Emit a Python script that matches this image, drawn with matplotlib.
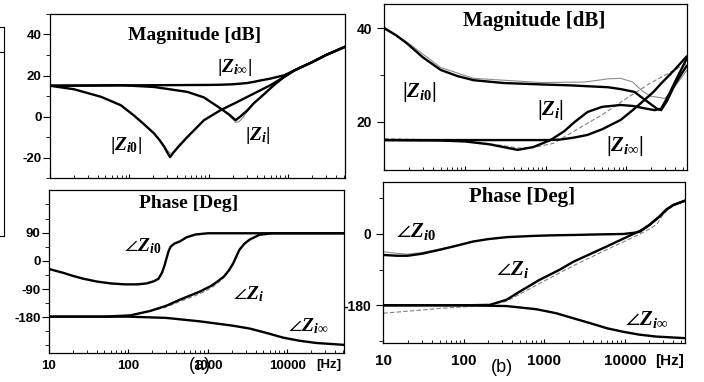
import matplotlib
matplotlib.use("Agg")
import matplotlib.pyplot as plt
from matplotlib.ticker import FixedLocator, NullFormatter
from matplotlib.lines import Line2D

plt.rcParams['mathtext.fontset'] = 'custom'
plt.rcParams['mathtext.it'] = 'Liberation Serif:italic:bold'
plt.rcParams['mathtext.rm'] = 'Liberation Serif:bold'
plt.rcParams['mathtext.bf'] = 'Liberation Serif:bold'
plt.rcParams['mathtext.fallback'] = 'stix'

# ---------------- data : panel (a) ----------------
a_mag_inf_f = [10, 30, 100, 300, 1000, 1410, 2000, 3000, 3700, 4500, 6000, 8900, 12000, 20000, 30000, 52000]
a_mag_inf_v = [15, 15.1, 15.2, 15.3, 15.4, 15.5, 15.7, 16.3, 16.9, 17.6, 18.5, 20.1, 22.5, 26.5, 30.0, 34.0]

a_mag_0_f = [10, 20, 44, 78, 114, 150, 205, 240, 275, 300, 325, 360, 420, 537, 700, 870, 1410, 2290, 3700, 6000, 8900, 12000, 20000, 30000, 52000]
a_mag_0_v = [15, 13.3, 9.6, 5.5, 0.5, -3.5, -8.3, -11.5, -14.8, -17.5, -19.8, -17.5, -14.5, -10, -5.5, -1.8, 3.1, 7.1, 11.2, 15.3, 19.3, 22.5, 26.5, 30.0, 34.0]
a_mag_0_meas_f = [240, 275, 300, 325, 345, 370, 420, 537]
a_mag_0_meas_v = [-11.5, -14.5, -16.5, -17.8, -18.2, -16.8, -14.0, -10]

a_mag_i_f = [10, 30, 78, 205, 537, 870, 1410, 1800, 2180, 2500, 3080, 3700, 4570, 6620, 8900, 12000, 20000, 30000, 52000]
a_mag_i_v = [15, 15.1, 15.3, 14.4, 12.0, 9.3, 3.9, 1.0, -1.8, 0.0, 3.1, 6.5, 9.6, 15.3, 19.3, 22.5, 26.5, 30.0, 34.0]
a_mag_i_meas_f = [1410, 1800, 2180, 2400, 2700, 3080, 3700]
a_mag_i_meas_v = [3.9, 0.5, -2.8, -2.6, -0.5, 2.6, 6.3]

a_ph_0_f = [10, 15, 20, 27, 40, 60, 90, 130, 170, 210, 240, 265, 285, 300, 320, 340, 380, 445, 540, 700, 1000, 3000, 52000]
a_ph_0_v = [-26, -38, -48, -57, -66, -72, -75, -75, -72, -65, -57, -38, -15, 5, 30, 45, 55, 62, 75, 84, 88, 88, 88]

a_ph_i_f = [10, 50, 105, 187, 302, 445, 795, 1100, 1290, 1600, 1850, 2090, 2300, 2500, 2900, 3380, 4460, 6500, 52000]
a_ph_i_v = [-178, -178, -174, -160, -143, -124, -98, -80, -68, -50, -30, -8, 15, 35, 55, 68, 83, 88, 88]
a_ph_i_meas_f = [187, 302, 445, 795, 1100, 1290, 1600]
a_ph_i_meas_v = [-161, -147, -130, -105, -87, -74, -53]

a_ph_inf_f = [10, 100, 300, 795, 2090, 3380, 5500, 8900, 14400, 23300, 52000]
a_ph_inf_v = [-178, -178, -182, -193, -207, -216, -230, -245, -255, -262, -268]

# ---------------- data : panel (b) ----------------
b_mag_0_f = [10, 14, 19, 30, 50, 80, 128, 300, 870, 2000, 5900, 8500, 12600, 15000, 20000, 24000, 27000, 32000, 40000, 56000]
b_mag_0_v = [40, 38.5, 36.8, 33.8, 31.1, 29.8, 28.9, 28.3, 28.0, 27.8, 27.4, 27.0, 26.4, 25.4, 23.8, 22.8, 22.5, 24.5, 28.0, 32.0]
b_mag_0_meas_f = [10, 20, 50, 128, 870, 3000, 6000, 8500, 12000, 16000, 20000, 30000, 40000, 56000]
b_mag_0_meas_v = [40.3, 36.8, 31.6, 29.3, 28.4, 28.5, 29.2, 29.3, 28.5, 26.5, 25.5, 25.0, 27.5, 31.0]

b_mag_i_f = [10, 50, 100, 200, 300, 450, 700, 1150, 1700, 2300, 3300, 5000, 8500, 12000, 16600, 22400, 27000, 33000, 40000, 56000]
b_mag_i_v = [16.1, 16.0, 15.8, 15.2, 14.6, 14.0, 14.6, 16.1, 18.0, 20.0, 22.1, 23.2, 23.6, 23.4, 22.9, 22.5, 22.8, 25.5, 28.5, 33.5]
b_mag_i_meas_f = [10, 100, 300, 450, 700, 1250, 2000, 5000, 10000, 20000, 56000]
b_mag_i_meas_v = [16.4, 16.0, 14.9, 14.4, 14.5, 15.4, 17.5, 21.5, 25.0, 28.3, 32.5]

b_mag_inf_f = [10, 100, 1000, 1500, 2200, 3300, 5000, 8500, 12000, 16600, 22000, 27000, 40000, 56000]
b_mag_inf_v = [16.1, 16.1, 16.1, 16.2, 16.6, 17.2, 18.4, 20.4, 22.5, 24.6, 26.5, 28.2, 31.2, 34.0]

b_ph_0_f = [10, 15, 20, 30, 50, 80, 131, 200, 340, 700, 1200, 2300, 5000, 9600, 13000, 15500, 20000, 27000, 33000, 40000, 56000]
b_ph_0_v = [-53, -55, -55, -50, -40, -30, -19, -13, -8, -5, -3.5, -2.5, -1, 0, 3, 6, 22, 44, 62, 73, 84]
b_ph_0_meas_f = [10, 15, 20, 30, 50, 80, 131, 200]
b_ph_0_meas_v = [-45, -49, -51, -47, -38, -29, -19, -13]

b_ph_i_f = [10, 100, 210, 340, 500, 870, 1560, 2300, 4070, 5900, 10500, 15500, 20000, 27000, 33000, 40000, 56000]
b_ph_i_v = [-180, -180, -179, -166, -145, -116, -90, -70, -47, -32, -8, 8, 22, 44, 62, 73, 84]
b_ph_i_meas_f = [10, 20, 50, 100, 200, 340, 870, 2300, 5900, 15500, 20000, 25000, 30000, 40000, 56000]
b_ph_i_meas_v = [-200, -195, -188, -184, -180, -170, -125, -80, -40, 0, 12, 24, 50, 72, 86]

b_ph_inf_f = [10, 100, 340, 800, 1400, 2500, 3700, 6000, 9600, 15000, 24500, 56000]
b_ph_inf_v = [-180, -180, -182, -190, -200, -215, -225, -238, -247, -254, -259, -263]

xticks = [10, 100, 1000, 10000]
xtick_labels = ["10", "100", "1000", "10000"]

W, H = 704, 382
fig = plt.figure(figsize=(W / 100, H / 100), dpi=100)


def rect(l, r, t, b):
    return [l / W, 1 - b / H, (r - l) / W, (b - t) / H]


def P(x, y):
    return (x / W, 1 - y / H)


ax_am = fig.add_axes(rect(50, 345, 14, 178))
ax_ap = fig.add_axes(rect(49, 344, 190, 352.7))
ax_bm = fig.add_axes(rect(384.3, 686.7, 3.5, 170))
ax_bp = fig.add_axes(rect(383.3, 685, 181.7, 343.3))

LW = 1.7
GL = dict(color='0.55', lw=0.8)
GD = dict(color='0.5', lw=0.8, ls=(0, (4, 2)))
BL = dict(color='black', lw=LW, solid_capstyle='round')

# panel (a) magnitude
ax_am.plot(a_mag_0_meas_f, a_mag_0_meas_v, **GL)
ax_am.plot(a_mag_i_meas_f, a_mag_i_meas_v, **GL)
ax_am.plot(a_mag_inf_f, a_mag_inf_v, **BL)
ax_am.plot(a_mag_0_f, a_mag_0_v, **BL)
ax_am.plot(a_mag_i_f, a_mag_i_v, **BL)
ax_am.set_ylim(-30, 50)
ax_am.set_xlim(10, 52000)

# panel (a) phase
ax_ap.plot(a_ph_i_meas_f, a_ph_i_meas_v, **GD)
ax_ap.plot(a_ph_0_f, a_ph_0_v, **BL)
ax_ap.plot(a_ph_i_f, a_ph_i_v, **BL)
ax_ap.plot(a_ph_inf_f, a_ph_inf_v, **BL)
ax_ap.set_ylim(-293, 226)
ax_ap.set_xlim(10, 52000)

# panel (b) magnitude
ax_bm.plot(b_mag_0_meas_f, b_mag_0_meas_v, **GL)
ax_bm.plot(b_mag_i_meas_f, b_mag_i_meas_v, **GD)
ax_bm.plot(b_mag_0_f, b_mag_0_v, **BL)
ax_bm.plot(b_mag_i_f, b_mag_i_v, **BL)
ax_bm.plot(b_mag_inf_f, b_mag_inf_v, **BL)
ax_bm.set_ylim(9.7, 45.3)
ax_bm.set_xlim(10, 56000)

# panel (b) phase
ax_bp.plot(b_ph_0_meas_f, b_ph_0_meas_v, **GL)
ax_bp.plot(b_ph_i_meas_f, b_ph_i_meas_v, **GD)
ax_bp.plot(b_ph_0_f, b_ph_0_v, **BL)
ax_bp.plot(b_ph_i_f, b_ph_i_v, **BL)
ax_bp.plot(b_ph_inf_f, b_ph_inf_v, **BL)
ax_bp.set_ylim(-276, 132)
ax_bp.set_xlim(10, 56000)

tickfont = dict(family='Liberation Sans', weight='bold')

for ax in (ax_am, ax_ap, ax_bm, ax_bp):
    ax.set_xscale('log')
    ax.set_xticks(xticks)
    for s in ax.spines.values():
        s.set_linewidth(0.9)
    ax.tick_params(axis='x', which='major', direction='in', length=3, width=0.8)
    ax.tick_params(axis='x', which='minor', direction='in', length=2, width=0.6)
    ax.tick_params(axis='y', which='major', direction='out', length=5, width=0.8)
    ax.tick_params(axis='y', which='minor', direction='out', length=3, width=0.6)

ax_am.set_yticks([-20, 0, 20, 40])
ax_am.yaxis.set_minor_locator(FixedLocator([-30, -10, 10, 30, 50]))
ax_ap.set_yticks([-180, -90, 0, 90])
ax_ap.yaxis.set_minor_locator(FixedLocator([-270, -225, -135, -45, 45, 135, 180]))
ax_bm.set_yticks([20, 40])
ax_bm.yaxis.set_minor_locator(FixedLocator([30]))
ax_bp.set_yticks([-180, 0])
ax_bp.yaxis.set_minor_locator(FixedLocator([-270, -90, 90]))

for ax in (ax_am, ax_bm):
    ax.set_xticklabels([])
ax_ap.set_xticklabels(xtick_labels, fontsize=9.5, **tickfont)
ax_bp.set_xticklabels(xtick_labels, fontsize=11, **tickfont)
ax_ap.tick_params(axis='x', pad=5)
ax_bp.tick_params(axis='x', pad=8)
for ax in (ax_am, ax_ap):
    ax.set_yticks(ax.get_yticks())
    ax.set_yticklabels([f"{int(v)}" for v in ax.get_yticks()], fontsize=9.5, **tickfont)
    ax.tick_params(axis='y', pad=1)
for ax in (ax_bm, ax_bp):
    ax.set_yticks(ax.get_yticks())
    ax.set_yticklabels([f"{int(v)}" for v in ax.get_yticks()], fontsize=10, **tickfont)
    ax.tick_params(axis='y', pad=4)
for ax in (ax_am, ax_ap, ax_bm, ax_bp):
    ax.xaxis.set_minor_formatter(NullFormatter())

# titles
serif = dict(family='Liberation Serif', weight='bold', ha='center', va='center')
fig.text(*P(195, 35), "Magnitude [dB]", fontsize=14, **serif)
fig.text(*P(189, 204), "Phase [Deg]", fontsize=14, **serif)
fig.text(*P(534, 21), "M a g n i t u d e  [d B]".replace(" ", "\u200a") if False else "Magnitude [dB]", fontsize=15, **serif)
fig.text(*P(522, 197), "Phase [Deg]", fontsize=15, **serif)

lab = dict(ha='center', va='center')
fig.text(*P(235, 68), r"$|Z_{i\infty}|$", fontsize=14, **lab)
fig.text(*P(126, 146), r"$|Z_{i0}|$", fontsize=14, **lab)
fig.text(*P(258, 135), r"$|Z_{i}|$", fontsize=14, **lab)
fig.text(*P(143, 246), r"$\angle Z_{i0}$", fontsize=14, **lab)
fig.text(*P(249, 294), r"$\angle Z_{i}$", fontsize=14, **lab)
fig.text(*P(308, 326), r"$\angle Z_{i\infty}$", fontsize=14, **lab)

fig.text(*P(419, 92), r"$|Z_{i0}|$", fontsize=15, **lab)
fig.text(*P(551, 110), r"$|Z_{i}|$", fontsize=15, **lab)
fig.text(*P(625, 146), r"$|Z_{i\infty}|$", fontsize=15, **lab)
fig.text(*P(416, 232), r"$\angle Z_{i0}$", fontsize=15, **lab)
fig.text(*P(513, 269), r"$\angle Z_{i}$", fontsize=15, **lab)
fig.text(*P(647, 320), r"$\angle Z_{i\infty}$", fontsize=15, **lab)

fig.text(*P(329, 365), "[Hz]", fontsize=9.5, ha='center', va='center', **tickfont)
fig.text(*P(670, 361), "[Hz]", fontsize=11, ha='center', va='center', **tickfont)
fig.text(*P(200, 366), "(a)", fontsize=13, ha='center', va='center', family='Liberation Sans')
fig.text(*P(502, 368), "(b)", fontsize=13, ha='center', va='center', family='Liberation Sans')

# partial frame of neighbouring figure at the left edge
for (x0, y0, x1, y1) in [(4, 27, 4, 236), (0, 27, 4, 27), (0, 52, 4, 52), (0, 236, 4, 236)]:
    fig.add_artist(Line2D([x0 / W, x1 / W], [1 - y0 / H, 1 - y1 / H], color='black', lw=0.8,
                          transform=fig.transFigure))

fig.savefig("out.png", dpi=100, facecolor='white')
